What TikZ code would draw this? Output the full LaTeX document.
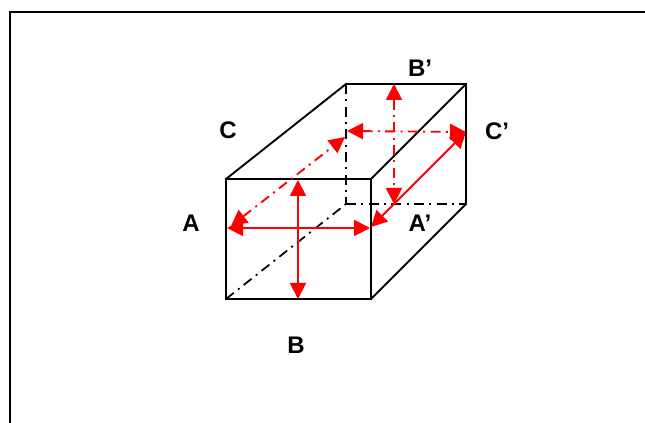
\documentclass[tikz,border=0pt]{standalone}
\usepackage{fontspec}
\setmainfont{Liberation Sans}
\usetikzlibrary{arrows.meta}
\definecolor{arrowred}{RGB}{255,0,0}
\tikzset{
  edge/.style={draw=black,line width=1.4pt,line cap=butt},
  hidden/.style={draw=black,line width=1.3pt,dash pattern=on 7.5pt off 4pt on 1.5pt off 4pt},
  measure/.style={draw=arrowred,line width=1.4pt,{Triangle[length=12pt,width=12pt]}-{Triangle[length=12pt,width=12pt]}},
  hiddenmeasure/.style={measure,dash pattern=on 7.5pt off 4pt on 1.5pt off 4pt},
  lab/.style={font=\bfseries\fontsize{18}{20}\selectfont,inner sep=0pt,text=black}
}
\begin{document}
\begin{tikzpicture}[x=0.75pt,y=-0.75pt]
\useasboundingbox (0,0) rectangle (645,423);
\fill[white] (0,0) rectangle (645,423);
% frame
\coordinate (fa) at (10,423);
\coordinate (fb) at (10,12);
\coordinate (fc) at (645,12);
\draw[edge] (fa) -- (fb) -- (fc);
% box corners
\coordinate (ftl) at (226,179);
\coordinate (ftr) at (371,179);
\coordinate (fbl) at (226,299);
\coordinate (fbr) at (371,299);
\coordinate (btl) at (346,84);
\coordinate (btr) at (466,84);
\coordinate (bbl) at (346,204);
\coordinate (bbr) at (466,204);
% hidden edges
\draw[hidden] (btl) -- (bbl);
\draw[hidden] (bbl) -- (bbr);
\draw[hidden] (fbl) -- (bbl);
% visible edges
\draw[edge] (ftl) rectangle (fbr);
\draw[edge] (ftl) -- (btl) -- (btr) -- (bbr) -- (fbr);
\draw[edge] (ftr) -- (btr);
% measures
\coordinate (al) at (227,228);
\coordinate (ar) at (370,228);
\coordinate (bt) at (298,180);
\coordinate (bb) at (298,299);
\coordinate (cl) at (347,131);
\coordinate (cr) at (466,132);
\coordinate (dt) at (394,84);
\coordinate (db) at (394,204);
\coordinate (et) at (466,132);
\coordinate (eb) at (371,227);
\coordinate (gl) at (231,226);
\coordinate (gr) at (345,137);
\draw[measure] (al) -- (ar);
\draw[measure] (bt) -- (bb);
\draw[measure] (et) -- (eb);
\draw[hiddenmeasure] (cl) -- (cr);
\draw[hiddenmeasure] (dt) -- (db);
\draw[hiddenmeasure] (gl) -- (gr);
% labels
\node[lab] (A) at (191,223) {A};
\node[lab] (B) at (296,345) {B};
\node[lab] (C) at (228,130) {C};
\node[lab] (Ap) at (420,223) {A’};
\node[lab] (Bp) at (420,68) {B’};
\node[lab] (Cp) at (497,131) {C’};
\end{tikzpicture}
\end{document}
